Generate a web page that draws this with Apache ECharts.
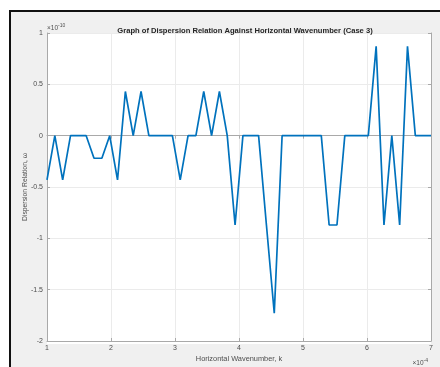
<!DOCTYPE html>
<html>
<head>
<meta charset="utf-8">
<script src="https://cdn.jsdelivr.net/npm/echarts@6/dist/echarts.min.js"></script>
<style>
html,body{margin:0;padding:0;background:#ffffff;}
#c{width:440px;height:367px;}
</style>
</head>
<body>
<div id="c"></div>
<script>
// Horizontal wavenumber k (x 1e-4)
var kValues = [1.000,1.1224,1.2449,1.3673,1.4898,1.6122,1.7347,1.8571,1.9796,2.1020,
  2.2245,2.3469,2.4694,2.5918,2.7143,2.8367,2.9592,3.0816,3.2041,3.3265,
  3.4490,3.5714,3.6939,3.8163,3.9388,4.0612,4.1837,4.3061,4.4286,4.5510,
  4.6735,4.7959,4.9184,5.0408,5.1633,5.2857,5.4082,5.5306,5.6531,5.7755,
  5.8980,6.0204,6.1429,6.2653,6.3878,6.5102,6.6327,6.7551,6.8776,7.000];
// Dispersion relation omega (x 1e-10)
var omegaValues = [-0.43,0,-0.43,0,0,0,-0.22,-0.22,0,-0.43,
  0.43,0,0.43,0,0,0,0,-0.43,0,0,
  0.43,0,0.43,0,-0.87,0,0,0,-0.87,-1.73,
  0,0,0,0,0,0,-0.87,-0.87,0,0,
  0,0,0.87,-0.87,0,-0.87,0.87,0,0,0];
var xTicks = [1,2,3,4,5,6,7];
var yTicks = [-2,-1.5,-1,-0.5,0,0.5,1];

var titleText = 'Graph of Dispersion Relation Against Horizontal Wavenumber (Case 3)';
var xLabel = 'Horizontal Wavenumber, k';
var yLabel = 'Dispersion Relation, \u03C9';

var data = kValues.map(function(k,i){return [k, omegaValues[i]];});

var chart = echarts.init(document.getElementById('c'), null, {renderer:'canvas'});
var F = 'Arial, "Liberation Sans", Helvetica, sans-serif';
var axisCol = '#a9a9a9';
var gridCol = '#ebebeb';
var txtCol = '#4d4d4d';

chart.setOption({
  animation:false,
  backgroundColor:'transparent',
  textStyle:{fontFamily:F},
  graphic:[
    {type:'rect', z:-10, shape:{x:10,y:11,width:430,height:356}, style:{fill:'#f0f0f0'}},
    {type:'rect', z:-9, shape:{x:9,y:10,width:2,height:357}, style:{fill:'#111'}},
    {type:'rect', z:-9, shape:{x:9,y:10,width:431,height:2}, style:{fill:'#111'}},
    {type:'rect', z:-8, shape:{x:47,y:33,width:384,height:311}, style:{fill:'#ffffff'}},
    {type:'text', left:47, top:23, style:{
      text:'{a|\u00D710}{b|-10}', rich:{
        a:{fontSize:6.5, fill:txtCol, fontFamily:F},
        b:{fontSize:5, fill:txtCol, fontFamily:F, padding:[0,0,5,0]}
      }}},
    {type:'text', right:12, top:358, style:{
      text:'{a|\u00D710}{b|-4}', rich:{
        a:{fontSize:6.5, fill:txtCol, fontFamily:F},
        b:{fontSize:5, fill:txtCol, fontFamily:F, padding:[0,0,5,0]}
      }}}
  ],
  title:{
    text:titleText, left:240, top:22, textAlign:'center',
    textStyle:{fontSize:7.6, fontWeight:'bold', color:'#262626', fontFamily:F}
  },
  grid:{left:47, top:33, width:384, height:311, containLabel:false},
  xAxis:[{
    type:'value', min:1, max:7, interval:1,
    name:xLabel, nameLocation:'middle', nameGap:14, nameMoveOverlap:false,
    nameTextStyle:{fontSize:7.4, color:txtCol, fontFamily:F},
    axisLine:{show:true, onZero:false, lineStyle:{color:axisCol, width:1}},
    axisTick:{show:true, inside:true, length:3, lineStyle:{color:axisCol}},
    axisLabel:{fontSize:7, color:txtCol, margin:4, fontFamily:F},
    splitLine:{show:true, lineStyle:{color:gridCol, width:1}}
  },{
    type:'value', position:'top', min:1, max:7, interval:1,
    axisLine:{show:true, lineStyle:{color:axisCol, width:1}},
    axisTick:{show:true, inside:true, length:3, lineStyle:{color:axisCol}},
    axisLabel:{show:false}, splitLine:{show:false}
  }],
  yAxis:[{
    type:'value', min:-2, max:1, interval:0.5,
    name:yLabel, nameLocation:'middle', nameGap:18, nameRotate:90, nameMoveOverlap:false,
    nameTextStyle:{fontSize:6.8, color:txtCol, fontFamily:F},
    axisLine:{show:true, onZero:false, lineStyle:{color:axisCol, width:1}},
    axisTick:{show:true, inside:true, length:3, lineStyle:{color:axisCol}},
    axisLabel:{fontSize:7, color:txtCol, margin:4, fontFamily:F},
    splitLine:{show:true, lineStyle:{color:gridCol, width:1}}
  },{
    type:'value', position:'right', min:-2, max:1, interval:0.5,
    axisLine:{show:true, lineStyle:{color:axisCol, width:1}},
    axisTick:{show:true, inside:true, length:3, lineStyle:{color:axisCol}},
    axisLabel:{show:false}, splitLine:{show:false}
  }],
  series:[{
    type:'line', data:data, xAxisIndex:0, yAxisIndex:0,
    showSymbol:false, symbol:'none',
    lineStyle:{color:'#0072BD', width:1.7},
    clip:true
  }]
});
</script>
</body>
</html>
